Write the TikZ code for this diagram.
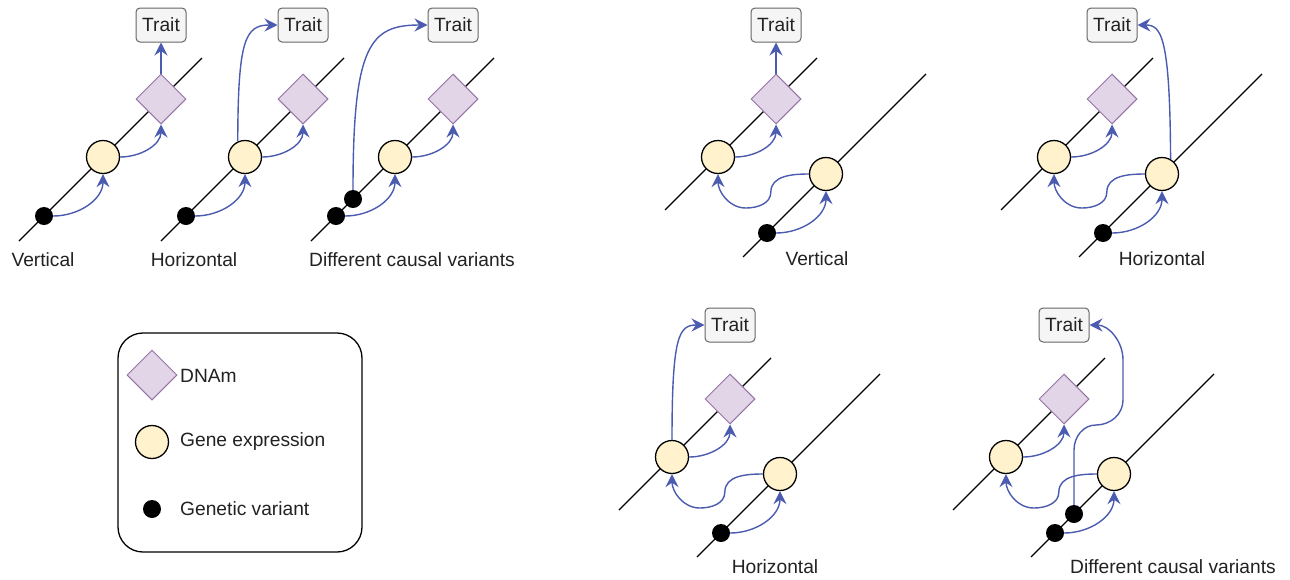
\documentclass[tikz,border=0pt]{standalone}
\usepackage{fontspec}
\setmainfont{Liberation Sans}
\usetikzlibrary{shapes.geometric,arrows.meta}
\definecolor{arrblue}{HTML}{4A5BB0}
\definecolor{exprfill}{HTML}{FFF2CC}
\definecolor{methfill}{HTML}{E1D5E7}
\definecolor{methdraw}{HTML}{9673A6}
\definecolor{traitfill}{HTML}{F5F5F5}
\definecolor{traitdraw}{HTML}{666666}
\definecolor{txt}{HTML}{222222}
\tikzset{
 dna/.style={black, line width=1.3pt},
 expr/.style={circle, draw=black, fill=exprfill, line width=1.3pt, minimum size=33pt, inner sep=0pt},
 var/.style={circle, fill=black, minimum size=18pt, inner sep=0pt},
 meth/.style={diamond, draw=methdraw, fill=methfill, line width=1pt, minimum width=50pt, minimum height=50pt, inner sep=0pt},
 trait/.style={rectangle, rounded corners=4pt, draw=traitdraw, fill=traitfill, line width=1pt, minimum width=50pt, minimum height=34pt, inner sep=2pt, text=txt, font=\fontsize{19.2}{21}\selectfont},
 lbl/.style={text=txt, font=\fontsize{19.2}{22}\selectfont, inner sep=0pt},
 arr/.style={draw=arrblue, line width=1.4pt, -{Stealth[length=13pt,width=13pt,inset=4.5pt]}},
}
\newcommand{\panelL}{%
 \draw[dna] (19,241) -- (202,58);
 \node[expr] (e) at (103,157) {};
 \node[meth] (m) at (161,99) {};
 \node[trait] (t) at (161,25) {Trait};
 \draw[arr] (e.east) to[out=0,in=-90] (m.south);
}
\newcommand{\panelR}{%
 \draw[dna] (665,210) -- (817,58);
 \draw[dna] (743,257) -- (926,74);
 \node[expr] (a) at (718,157) {};
 \node[meth] (m) at (776,99) {};
 \node[trait] (t) at (776,25) {Trait};
 \node[expr] (b) at (826,174) {};
 \node[var] (v) at (767,233) {};
 \draw[arr] (a.east) to[out=0,in=-90] (m.south);
 \draw[arr] (v.east) to[out=0,in=-90] (b.south);
 \draw[arr] (b.west) to[out=180,in=90] ++(-38,18) to[out=-90,in=0] ++(-25,16) to[out=180,in=-90] (a.south);
}
\begin{document}
\begin{tikzpicture}[x=1pt,y=-1pt]
\fill[white] (0,0) rectangle (1290,579);
\useasboundingbox (0,0) rectangle (1290,579);

% Panel 1
\begin{scope}[name prefix=p1-]
 \panelL
 \node[var] (v) at (44,216) {};
 \draw[arr] (v.east) to[out=0,in=-90] (e.south);
 \draw[arr] (m.north) -- (t.south);
 \node[lbl] (l) at (43,260) {Vertical};
\end{scope}

% Panel 2
\begin{scope}[shift={(142,0)}, name prefix=p2-]
 \panelL
 \node[var] (v) at (44,216) {};
 \draw[arr] (v.east) to[out=0,in=-90] (e.south);
 \draw[arr] (e.115) .. controls (96,40) and (103,25) .. (t.west);
 \node[lbl] (l) at (52,260) {Horizontal};
\end{scope}

% Panel 3
\begin{scope}[shift={(292,0)}, name prefix=p3-]
 \panelL
 \node[var] (v) at (44,216) {};
 \node[var] (u) at (61,199) {};
 \draw[arr] (v.east) to[out=0,in=-90] (e.south);
 \draw[arr] (u.north) .. controls (61,45) and (78,25) .. (t.west);
 \node[lbl] (l) at (120,260) {Different causal variants};
\end{scope}

% Panel 4
\begin{scope}[name prefix=p4-]
 \panelR
 \draw[arr] (m.north) -- (t.south);
 \node[lbl] (l) at (817,259) {Vertical};
\end{scope}

% Panel 5
\begin{scope}[shift={(336,0)}, name prefix=p5-]
 \panelR
 \draw[arr] (b.60) .. controls (834,35) and (825,25) .. (t.east);
 \node[lbl] (l) at (826,259) {Horizontal};
\end{scope}

% Panel 6
\begin{scope}[shift={(-46,300)}, name prefix=p6-]
 \panelR
 \draw[arr] (a.north) .. controls (718,35) and (725,25) .. (t.west);
 \node[lbl] (l) at (821,267) {Horizontal};
\end{scope}

% Panel 7
\begin{scope}[shift={(288,300)}, name prefix=p7-]
 \panelR
 \node[var] (u) at (786,214) {};
 \draw[arr] (u.north) -- (786,150) to[out=90,in=180] (808,125) to[out=0,in=-90] (835,100) -- (835,60) to[out=90,in=0] (t.east);
 \node[lbl] (l) at (885,267) {Different causal variants};
\end{scope}

% Legend
\node[draw=black, line width=1.3pt, rounded corners=25pt, minimum width=244pt, minimum height=219pt, inner sep=0pt] (legend) at (240,442.5) {};
\node[meth] (lm) at (152,375) {};
\node[lbl, anchor=west] (lmt) at (180,376) {DNAm};
\node[expr] (le) at (152,442) {};
\node[lbl, anchor=west] (let) at (180,442) {Gene expression};
\node[var] (lv) at (152,509) {};
\node[lbl, anchor=west] (lvt) at (180,509) {Genetic variant};
\end{tikzpicture}
\end{document}
